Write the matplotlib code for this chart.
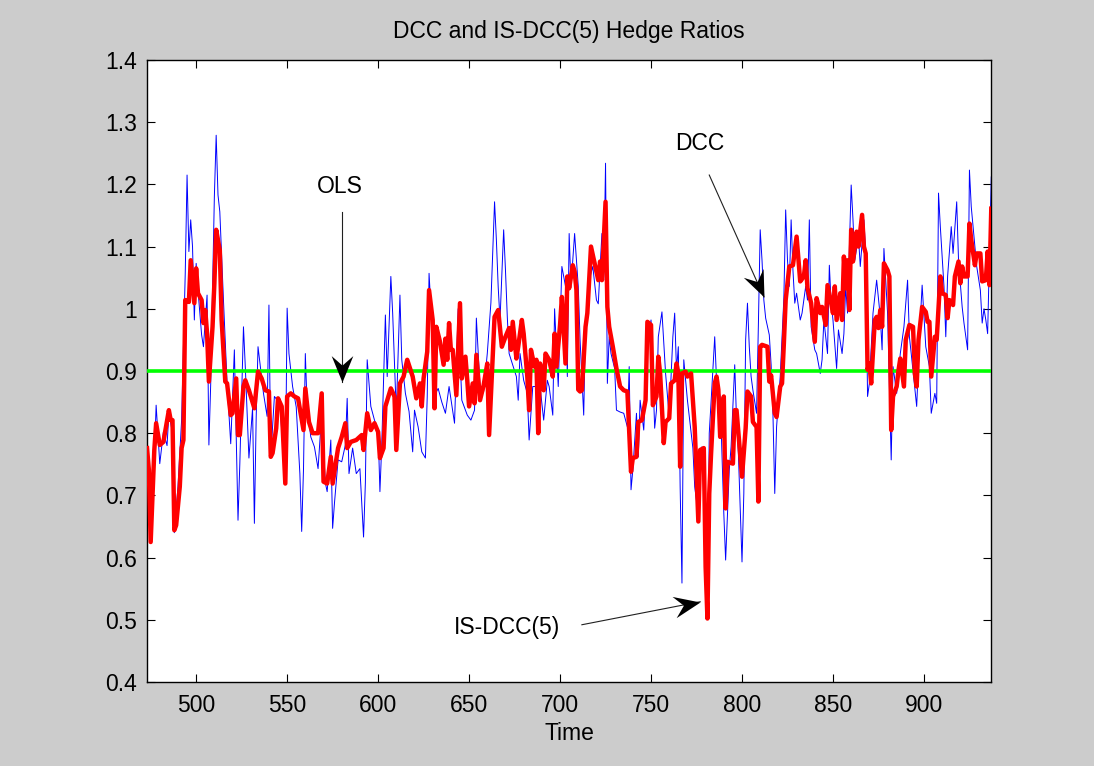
import math
import matplotlib
matplotlib.use('Agg')
import matplotlib.pyplot as plt
from matplotlib.path import Path
from matplotlib.markers import MarkerStyle
from matplotlib.transforms import Affine2D
from matplotlib.ticker import FuncFormatter, MultipleLocator

plt.rcParams['font.family'] = ['Liberation Sans', 'DejaVu Sans']

# IS-DCC(5) hedge ratio (thick red) as (time, ratio)
isdcc = [
    (473, 0.776), (474, 0.741), (475, 0.625), (477, 0.773), (478, 0.816), (480, 0.781),
    (482, 0.786), (485, 0.837), (486, 0.821), (487, 0.821), (488, 0.644), (489, 0.652),
    (491, 0.714), (492, 0.776), (493, 0.789), (494, 1.014), (496, 1.011), (497, 1.078),
    (499, 1.009), (500, 1.065), (501, 1.025), (503, 1.014), (504, 0.977), (505, 0.998),
    (506, 0.960), (507, 0.883), (509, 0.971), (510, 1.040), (511, 1.127), (513, 1.094),
    (514, 0.982), (516, 0.883), (517, 0.880), (519, 0.829), (520, 0.832), (522, 0.888),
    (523, 0.797), (524, 0.797), (526, 0.875), (527, 0.885), (529, 0.869), (532, 0.840),
    (534, 0.899), (536, 0.888), (538, 0.869), (540, 0.867), (541, 0.762), (542, 0.768),
    (544, 0.808), (545, 0.856), (547, 0.843), (549, 0.719), (550, 0.859), (552, 0.864),
    (554, 0.859), (556, 0.856), (559, 0.805), (560, 0.872), (562, 0.818), (564, 0.800),
    (567, 0.800), (569, 0.864), (570, 0.722), (572, 0.719), (574, 0.762), (575, 0.719),
    (578, 0.776), (580, 0.794), (582, 0.816), (583, 0.776), (585, 0.786), (588, 0.789),
    (591, 0.797), (592, 0.773), (594, 0.832), (596, 0.805), (598, 0.816), (600, 0.802),
    (601, 0.760), (603, 0.776), (604, 0.843), (607, 0.872), (609, 0.859), (610, 0.773),
    (612, 0.880), (614, 0.891), (616, 0.918), (619, 0.891), (621, 0.856), (623, 0.880),
    (624, 0.843), (625, 0.888), (627, 0.931), (628, 1.030), (630, 0.982), (631, 0.840),
    (632, 0.971), (634, 0.947), (636, 0.910), (637, 0.952), (638, 0.918), (639, 0.977),
    (640, 0.934), (641, 0.934), (643, 0.861), (645, 1.009), (646, 0.888), (648, 0.923),
    (649, 0.885), (650, 0.843), (652, 0.880), (653, 0.848), (654, 0.926), (656, 0.853),
    (658, 0.877), (660, 0.912), (661, 0.797), (664, 0.987), (666, 0.998), (668, 0.939),
    (670, 0.955), (672, 0.969), (673, 0.934), (674, 0.979), (676, 0.920), (677, 0.939),
    (679, 0.982), (680, 0.960), (682, 0.891), (683, 0.837), (684, 0.934), (686, 0.907),
    (687, 0.918), (688, 0.800), (689, 0.912), (691, 0.869), (692, 0.928), (694, 0.918),
    (696, 0.891), (697, 0.960), (698, 0.907), (700, 0.974), (701, 1.019), (703, 0.912),
    (704, 1.052), (705, 1.033), (707, 1.070), (708, 1.060), (709, 1.030), (710, 0.870),
    (711, 0.867), (712, 0.869), (714, 0.971), (715, 0.993), (717, 1.100), (719, 1.073),
    (721, 1.046), (722, 1.076), (723, 1.046), (725, 1.172), (726, 1.003), (727, 0.971),
    (729, 0.939), (731, 0.904), (733, 0.875), (735, 0.869), (737, 0.867), (739, 0.738),
    (740, 0.760), (742, 0.762), (743, 0.818), (745, 0.821), (747, 0.853), (748, 0.979),
    (750, 0.974), (751, 0.845), (753, 0.859), (754, 0.923), (755, 0.896), (757, 0.784),
    (758, 0.818), (760, 0.824), (761, 0.880), (763, 0.885), (764, 0.912), (765, 0.896),
    (766, 0.746), (767, 0.896), (769, 0.899), (770, 0.891), (772, 0.896), (774, 0.810),
    (776, 0.658), (777, 0.773), (779, 0.776), (780, 0.585), (781, 0.502), (782, 0.703),
    (783, 0.767), (785, 0.880), (786, 0.891), (787, 0.870), (788, 0.794), (790, 0.859),
    (791, 0.679), (792, 0.754), (795, 0.751), (796, 0.837), (797, 0.837), (800, 0.730),
    (802, 0.808), (803, 0.867), (805, 0.859), (806, 0.818), (808, 0.810), (809, 0.690),
    (810, 0.939), (811, 0.942), (814, 0.939), (815, 0.883), (816, 0.893), (818, 0.832),
    (819, 0.826), (821, 0.875), (822, 0.880), (823, 0.944), (824, 1.014), (826, 1.068),
    (828, 1.070), (830, 1.116), (832, 1.044), (834, 1.052), (835, 1.078), (836, 1.033),
    (838, 1.009), (840, 0.947), (841, 1.017), (843, 0.993), (844, 1.003), (846, 0.974),
    (847, 1.038), (849, 1.009), (850, 0.993), (851, 1.036), (852, 0.982), (854, 1.025),
    (855, 0.982), (856, 1.084), (857, 1.033), (858, 1.078), (859, 0.998), (860, 1.127),
    (861, 1.076), (863, 1.124), (864, 1.100), (866, 1.151), (867, 1.100), (868, 1.089),
    (869, 0.902), (870, 0.912), (871, 0.880), (873, 0.982), (874, 0.987), (875, 0.969),
    (876, 0.998), (877, 0.971), (878, 1.073), (880, 1.062), (881, 1.052), (882, 0.805),
    (883, 0.859), (885, 0.875), (886, 0.901), (887, 0.920), (889, 0.875), (890, 0.950),
    (892, 0.974), (894, 0.971), (895, 0.896), (896, 0.875), (897, 0.950), (899, 1.003),
    (901, 0.995), (902, 0.979), (903, 0.979), (904, 0.891), (906, 0.955), (907, 0.950),
    (909, 1.052), (910, 1.025), (912, 1.022), (913, 0.985), (914, 1.014), (916, 1.006),
    (917, 1.052), (919, 1.076), (920, 1.041), (921, 1.068), (922, 1.052), (924, 1.052),
    (925, 1.137), (926, 1.111), (928, 1.070), (929, 1.089), (931, 1.089), (932, 1.044),
    (934, 1.046), (935, 1.092), (936, 1.038), (937, 1.161),
]

# DCC hedge ratio (thin blue)
dcc = [
    (473, 0.666), (474, 0.700), (475, 0.630), (477, 0.760), (478, 0.845), (480, 0.751),
    (482, 0.802), (484, 0.780), (485, 0.832), (487, 0.800), (488, 0.640), (490, 0.714),
    (492, 0.821), (494, 1.057), (495, 1.215), (496, 1.092), (497, 1.143), (498, 1.100),
    (499, 0.982), (500, 1.073), (501, 1.030), (503, 0.958), (504, 0.939), (506, 1.022),
    (507, 0.781), (508, 0.880), (510, 1.180), (511, 1.279), (512, 1.183), (513, 1.156),
    (515, 1.014), (517, 0.880), (519, 0.783), (521, 0.934), (523, 0.660), (524, 0.751),
    (526, 0.971), (527, 0.907), (529, 0.760), (531, 0.840), (532, 0.655), (533, 0.826),
    (534, 0.939), (537, 0.864), (539, 0.827), (540, 1.006), (541, 0.762), (543, 0.859),
    (546, 0.848), (549, 0.719), (550, 1.001), (551, 0.928), (553, 0.875), (555, 0.842),
    (557, 0.735), (558, 0.642), (559, 0.743), (560, 0.928), (561, 0.842), (563, 0.794),
    (565, 0.778), (567, 0.743), (569, 0.832), (571, 0.720), (572, 0.706), (574, 0.789),
    (575, 0.647), (576, 0.687), (578, 0.757), (580, 0.754), (582, 0.781), (583, 0.856),
    (584, 0.735), (586, 0.776), (588, 0.735), (590, 0.743), (592, 0.633), (593, 0.720),
    (594, 0.918), (596, 0.843), (598, 0.821), (600, 0.805), (601, 0.706), (602, 0.781),
    (604, 0.990), (605, 0.891), (607, 1.052), (608, 0.993), (610, 0.832), (612, 1.022),
    (613, 0.918), (615, 0.864), (617, 0.835), (619, 0.770), (620, 0.837), (622, 0.810),
    (624, 0.770), (626, 0.760), (627, 0.859), (628, 1.057), (629, 1.003), (631, 0.860),
    (633, 0.872), (635, 0.850), (637, 0.832), (639, 0.875), (642, 0.816), (644, 1.000),
    (646, 0.853), (649, 0.829), (651, 0.821), (653, 0.837), (654, 0.985), (656, 0.875),
    (658, 0.867), (660, 0.928), (662, 1.010), (664, 1.172), (665, 1.111), (666, 1.035),
    (667, 0.982), (669, 1.127), (670, 1.062), (671, 0.987), (672, 0.928), (676, 0.891),
    (677, 0.853), (678, 0.928), (680, 0.885), (682, 0.864), (683, 0.789), (685, 0.875),
    (689, 0.875), (691, 0.821), (693, 0.885), (694, 0.875), (696, 0.829), (697, 1.000),
    (699, 0.875), (701, 1.068), (703, 1.036), (704, 0.891), (705, 1.121), (706, 1.036),
    (708, 1.121), (709, 1.078), (710, 1.036), (711, 0.950), (713, 0.829), (714, 0.976),
    (716, 1.046), (718, 1.068), (720, 1.014), (721, 1.008), (723, 1.121), (724, 1.046),
    (725, 1.234), (726, 0.880), (727, 0.955), (728, 0.928), (730, 0.904), (731, 0.837),
    (733, 0.834), (735, 0.832), (737, 0.810), (738, 0.907), (739, 0.709), (740, 0.741),
    (742, 0.832), (743, 0.762), (744, 0.853), (746, 0.805), (748, 0.939), (750, 0.982),
    (752, 0.808), (753, 0.837), (754, 0.955), (756, 0.995), (758, 0.896), (760, 0.826),
    (762, 0.955), (763, 0.993), (764, 0.901), (765, 0.939), (766, 0.714), (767, 0.559),
    (768, 0.918), (769, 0.885), (770, 0.853), (773, 0.776), (774, 0.714), (776, 0.668),
    (778, 0.778), (781, 0.520), (782, 0.800), (783, 0.850), (785, 0.955), (786, 0.885),
    (788, 0.859), (790, 0.671), (791, 0.596), (793, 0.741), (794, 0.778), (796, 0.910),
    (797, 0.821), (798, 0.768), (800, 0.593), (801, 0.703), (802, 0.950), (803, 1.009),
    (804, 0.939), (805, 0.891), (806, 0.869), (808, 0.832), (809, 0.974), (810, 1.127),
    (811, 1.078), (812, 1.014), (813, 0.985), (815, 0.958), (816, 0.910), (817, 0.832),
    (818, 0.703), (819, 0.810), (821, 0.891), (822, 0.955), (823, 1.017), (824, 1.159),
    (825, 1.078), (826, 1.036), (827, 1.143), (828, 1.062), (829, 1.009), (830, 1.025),
    (832, 0.982), (833, 0.993), (835, 1.036), (836, 1.014), (837, 1.143), (838, 0.971),
    (840, 0.934), (841, 0.928), (843, 0.896), (844, 0.918), (845, 0.982), (847, 0.928),
    (848, 1.070), (849, 1.009), (850, 0.982), (852, 0.904), (853, 0.966), (855, 0.928),
    (856, 0.960), (857, 1.036), (858, 0.993), (860, 1.199), (861, 1.143), (862, 1.078),
    (864, 1.116), (865, 1.068), (867, 1.143), (868, 1.089), (869, 0.859), (870, 0.880),
    (872, 0.993), (874, 1.046), (876, 0.987), (877, 0.934), (878, 1.097), (880, 0.993),
    (882, 0.757), (883, 0.907), (885, 0.864), (887, 0.928), (889, 0.971), (891, 1.046),
    (892, 0.955), (893, 0.928), (896, 0.843), (898, 0.982), (899, 1.038), (901, 0.939),
    (903, 0.907), (904, 0.832), (906, 0.864), (907, 0.848), (908, 1.186), (909, 1.132),
    (911, 1.036), (912, 0.955), (913, 1.052), (915, 1.132), (916, 1.089), (918, 1.172),
    (919, 1.078), (921, 1.003), (922, 0.977), (924, 0.934), (925, 1.223), (926, 1.164),
    (927, 1.132), (929, 1.068), (931, 1.030), (932, 0.977), (933, 1.000), (934, 0.982),
    (935, 0.960), (937, 1.212),
]

ols_ratio = 0.9

# annotation labels: (text, text position, arrow start, arrow tip)
notes = [
    ('OLS', (579, 1.196), (580, 1.156), (580, 0.883)),
    ('DCC', (777, 1.265), (782, 1.215), (812, 1.019)),
    ('IS-DCC(5)', (671, 0.488), (712, 0.492), (777, 0.529)),
]

isdcc_t, isdcc_v = zip(*isdcc)
dcc_t, dcc_v = zip(*dcc)

FS = 16.5

fig = plt.figure(figsize=(10.94, 7.66), dpi=100, facecolor='#cccccc')
ax = fig.add_axes([0.1344, 0.1097, 0.7717, 0.812])

ax.plot(dcc_t, dcc_v, color='#0000ff', lw=0.7, zorder=2)
ax.axhline(ols_ratio, color='#00ff00', lw=2.6, zorder=3)
ax.plot(isdcc_t, isdcc_v, color='#ff0000', lw=3.2, zorder=4, solid_joinstyle='round')

ax.set_xlim(473, 937)
ax.set_ylim(0.4, 1.4)
ax.xaxis.set_major_locator(MultipleLocator(50))
ax.yaxis.set_major_locator(MultipleLocator(0.1))
ax.yaxis.set_major_formatter(FuncFormatter(lambda v, p: '%g' % round(v, 2)))
ax.tick_params(direction='in', length=6, width=0.8, top=True, right=True,
               labelsize=FS, colors='k')
ax.tick_params(axis='x', pad=9)
ax.tick_params(axis='y', pad=7)
for s in ax.spines.values():
    s.set_linewidth(1.0)

ax.set_xlabel('Time', fontsize=FS, labelpad=3.5)
ax.set_title('DCC and IS-DCC(5) Hedge Ratios', fontsize=FS, pad=15.5)

# matlab style concave arrow head, tip at origin pointing along +x
head = Path([(0, 0), (-1, 0.41), (-0.64, 0), (-1, -0.41), (0, 0)],
            [Path.MOVETO, Path.LINETO, Path.LINETO, Path.LINETO, Path.CLOSEPOLY])

for label, txt_xy, start, tip in notes:
    ax.text(txt_xy[0], txt_xy[1], label, fontsize=FS, ha='center', va='center')
    ax.plot([start[0], tip[0]], [start[1], tip[1]], color='#202020', lw=0.8, zorder=5)
    p0 = ax.transData.transform(start)
    p1 = ax.transData.transform(tip)
    ang = math.degrees(math.atan2(p1[1] - p0[1], p1[0] - p0[0]))
    m = MarkerStyle(head, transform=Affine2D().rotate_deg(ang))
    ax.plot([tip[0]], [tip[1]], marker=m, markersize=38, color='k',
            markeredgewidth=0, linestyle='none', zorder=6)

fig.savefig('out.png', dpi=100, facecolor=fig.get_facecolor())
